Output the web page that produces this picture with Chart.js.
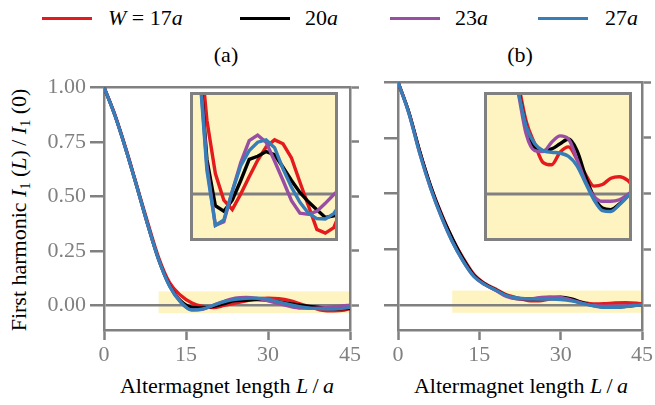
<!DOCTYPE html>
<html>
<head>
<meta charset="utf-8">
<script src="https://cdn.jsdelivr.net/npm/chart.js@4.4.1/dist/chart.umd.min.js"></script>
<style>
html, body { margin: 0; padding: 0; background: #fff; }
body { width: 655px; height: 405px; position: relative; overflow: hidden;
       font-family: "Liberation Serif", "DejaVu Serif", serif; color: #000; }
canvas { position: absolute; }
.txt { position: absolute; font-size: 22px; line-height: 22px; white-space: nowrap; }
.key { position: absolute; top: 17px; width: 50px; height: 3px; }
.ctr { transform: translate(-50%, -50%); }
sub { font-size: 14px; vertical-align: -4px; line-height: 0; }
</style>
</head>
<body>

<div class="key" style="left:42px;background:#e41a1c"></div>
<div class="txt" style="left:108px;top:7px"><i>W</i> = 17<i>a</i></div>
<div class="key" style="left:240px;background:#000"></div>
<div class="txt" style="left:305px;top:7px">20<i>a</i></div>
<div class="key" style="left:390px;background:#984ea3"></div>
<div class="txt" style="left:455px;top:7px">23<i>a</i></div>
<div class="key" style="left:538px;background:#377eb8"></div>
<div class="txt" style="left:605px;top:7px">27<i>a</i></div>

<div class="txt ctr" style="left:226px;top:55px">(a)</div>
<div class="txt ctr" style="left:520px;top:55px">(b)</div>

<div class="txt" style="left:19px;top:210px;transform:translate(-50%,-50%) rotate(-90deg)">First harmonic <i>I</i><sub>1</sub>&#8197;(<i>L</i>)&#8201;/&#8197;<i>I</i><sub>1</sub>&#8197;(0)</div>
<div class="txt ctr" style="left:227px;top:386px">Altermagnet length <i>L</i>&#8201;/&#8201;<i>a</i></div>
<div class="txt ctr" style="left:521px;top:386px">Altermagnet length <i>L</i>&#8201;/&#8201;<i>a</i></div>

<canvas id="mainA" width="340" height="300" style="left:30px;top:70px"></canvas>
<canvas id="mainB" width="277" height="300" style="left:378px;top:70px"></canvas>
<canvas id="insetA" width="148" height="149" style="left:190px;top:92px"></canvas>
<canvas id="insetB" width="148" height="149" style="left:484px;top:92px"></canvas>

<script>
// L/a sample points
var lengths = [0, 2, 4, 6, 8, 10, 12, 14, 16, 18, 20, 22, 24, 26, 28, 30, 32, 34, 36, 38, 40, 42, 44, 45];

var widthLabels = ['W = 17a', '20a', '23a', '27a'];
var colors = ['#e41a1c', '#000000', '#984ea3', '#377eb8'];

// panel (a)
var a17 = [1.0, 0.875, 0.72, 0.55, 0.38, 0.22, 0.105, 0.047, 0.013, -0.004, -0.010, 0.0, 0.011, 0.0215, 0.030, 0.0345, 0.032, 0.023, 0.0075, -0.0075, -0.0226, -0.025, -0.0215, -0.015];
var a20 = [1.0, 0.87, 0.715, 0.545, 0.37, 0.21, 0.092, 0.022, -0.0075, -0.011, -0.004, 0.0086, 0.022, 0.024, 0.027, 0.025, 0.017, 0.0086, 0.001, -0.005, -0.010, -0.015, -0.014, -0.0125];
var a23 = [1.0, 0.87, 0.715, 0.545, 0.37, 0.21, 0.09, 0.018, -0.020, -0.0177, 0.0017, 0.020, 0.034, 0.0375, 0.033, 0.021, 0.0086, -0.0043, -0.0123, -0.013, -0.011, -0.006, -0.0004, 0.002];
var a27 = [1.0, 0.87, 0.715, 0.545, 0.37, 0.21, 0.088, 0.015, -0.020, -0.0166, 0.0017, 0.018, 0.0276, 0.033, 0.0345, 0.0295, 0.016, 0.0043, -0.0054, -0.0123, -0.0157, -0.016, -0.0125, -0.0086];

// panel (b)
var b17 = [1.0, 0.865, 0.69, 0.535, 0.41, 0.30, 0.212, 0.138, 0.097, 0.072, 0.046, 0.032, 0.020, 0.0186, 0.0266, 0.030, 0.022, 0.0125, 0.005, 0.006, 0.010, 0.011, 0.0086, 0.0056];
var b20 = [1.0, 0.865, 0.69, 0.535, 0.405, 0.30, 0.207, 0.133, 0.094, 0.068, 0.043, 0.029, 0.0276, 0.0287, 0.032, 0.035, 0.0276, 0.0114, -0.002, -0.009, -0.010, -0.0065, -0.001, 0.0017];
var b23 = [1.0, 0.86, 0.68, 0.525, 0.395, 0.285, 0.197, 0.128, 0.091, 0.066, 0.038, 0.0276, 0.027, 0.033, 0.037, 0.035, 0.022, 0.008, -0.0015, -0.0047, -0.0047, -0.0037, -0.0004, 0.0017];
var b27 = [1.0, 0.86, 0.68, 0.525, 0.395, 0.285, 0.197, 0.128, 0.092, 0.067, 0.043, 0.032, 0.0276, 0.0266, 0.026, 0.024, 0.018, 0.007, -0.0037, -0.0106, -0.0112, -0.0069, -0.0015, 0.0017];

var xTicks = [0, 15, 30, 45];
var yTicks = [0, 0.25, 0.5, 0.75, 1.0];
var yRange = [-0.112, 1.0];

// zoomed window shown in the insets / shaded band
var zoomL = [10, 45];
var zoomI = [-0.03, 0.065];
var bandI = [-0.035, 0.065];

var gray = '#808080';
var yellow = '#fef4c2';
var font = { family: '"Liberation Serif", "Times New Roman", serif', size: 22 };

function series(vals) {
    return lengths.map(function (L, i) { return { x: L, y: vals[i] }; });
}

function makeSets(list, lw, smooth) {
    return list.map(function (vals, i) {
        return {
            label: widthLabels[i],
            data: series(vals),
            borderColor: colors[i],
            borderWidth: lw,
            pointRadius: 0,
            fill: false,
            tension: 0,
            cubicInterpolationMode: smooth ? 'monotone' : 'default',
            order: list.length - i
        };
    });
}

var bandPlugin = {
    id: 'band',
    beforeDraw: function (chart) {
        var x = chart.scales.x, y = chart.scales.y, c = chart.ctx;
        c.save();
        c.fillStyle = yellow;
        var x0 = x.getPixelForValue(zoomL[0]), x1 = x.getPixelForValue(zoomL[1]);
        var y0 = y.getPixelForValue(bandI[1]), y1 = y.getPixelForValue(bandI[0]);
        c.fillRect(x0, y0, x1 - x0, y1 - y0);
        c.restore();
    }
};

function mainChart(id, list, showLabels, leftW, rightW) {
    var fixW = function (w) { return function (s) { s.width = w; }; };
    var setTicks = function (arr) { return function (s) { s.ticks = arr.map(function (v) { return { value: v }; }); }; };
    return new Chart(document.getElementById(id), {
        type: 'line',
        data: { datasets: makeSets(list, 3.2, true) },
        plugins: [bandPlugin],
        options: {
            responsive: false,
            animation: false,
            devicePixelRatio: 1,
            layout: { padding: { top: 12, left: 0, right: 0, bottom: 0 } },
            plugins: { legend: { display: false }, tooltip: { enabled: false } },
            scales: {
                x: {
                    type: 'linear', position: 'bottom', min: 0, max: 45,
                    afterBuildTicks: setTicks(xTicks),
                    afterFit: function (s) { s.height = 40; },
                    grid: { drawOnChartArea: false, tickLength: 10, tickColor: gray, tickWidth: 2.5 },
                    border: { color: gray, width: 2.5 },
                    ticks: { color: gray, font: font, padding: 2, maxRotation: 0 }
                },
                x2: {
                    type: 'linear', position: 'top', min: 0, max: 45,
                    afterFit: function (s) { s.height = 0; },
                    grid: { display: false },
                    border: { display: true, color: gray, width: 2.5 },
                    ticks: { display: false }
                },
                y: {
                    type: 'linear', position: 'left', min: yRange[0], max: yRange[1],
                    afterBuildTicks: setTicks(yTicks),
                    afterFit: fixW(leftW),
                    grid: {
                        drawOnChartArea: true, tickLength: 14, tickColor: gray, tickWidth: 2.5, lineWidth: 2.5,
                        color: function (ctx) { return ctx.tick && ctx.tick.value === 0 ? gray : 'rgba(0,0,0,0)'; }
                    },
                    border: { color: gray, width: 2.5 },
                    ticks: {
                        display: showLabels, color: gray, font: font, padding: 4,
                        callback: function (v) { return v.toFixed(2); }
                    }
                },
                y2: {
                    type: 'linear', position: 'right', min: yRange[0], max: yRange[1],
                    afterBuildTicks: setTicks(yTicks),
                    afterFit: fixW(rightW),
                    grid: { drawOnChartArea: false, tickLength: 9, tickColor: gray, tickWidth: 2.5 },
                    border: { color: gray, width: 2.5 },
                    ticks: { display: false }
                }
            }
        }
    });
}

var insetPlugin = {
    id: 'insetBox',
    beforeDraw: function (chart) {
        var a = chart.chartArea, c = chart.ctx;
        c.save();
        c.fillStyle = yellow;
        c.fillRect(a.left, a.top, a.right - a.left, a.bottom - a.top);
        c.restore();
    },
    beforeDatasetsDraw: function (chart) {
        var a = chart.chartArea, c = chart.ctx;
        var y0 = chart.scales.y.getPixelForValue(0);
        c.save();
        c.strokeStyle = gray;
        c.lineWidth = 3;
        c.beginPath();
        c.moveTo(a.left, y0);
        c.lineTo(a.right, y0);
        c.stroke();
        c.restore();
    },
    afterDraw: function (chart) {
        var a = chart.chartArea, c = chart.ctx;
        c.save();
        c.strokeStyle = gray;
        c.lineWidth = 3;
        c.strokeRect(a.left + 1.5, a.top + 1.5, a.right - a.left - 3, a.bottom - a.top - 3);
        c.restore();
    }
};

function insetChart(id, list, smooth) {
    return new Chart(document.getElementById(id), {
        type: 'line',
        data: { datasets: makeSets(list, 3.4, smooth) },
        plugins: [insetPlugin],
        options: {
            responsive: false,
            animation: false,
            devicePixelRatio: 1,
            layout: { padding: 0 },
            plugins: { legend: { display: false }, tooltip: { enabled: false } },
            scales: {
                x: { type: 'linear', display: false, min: zoomL[0], max: zoomL[1] },
                y: { type: 'linear', display: false, min: zoomI[0], max: zoomI[1] }
            }
        }
    });
}

mainChart('mainA', [a17, a20, a23, a27], true, 74, 20);
mainChart('mainB', [b17, b20, b23, b27], false, 20, 12);
insetChart('insetA', [a17, a20, a23, a27], false);
insetChart('insetB', [b17, b20, b23, b27], true);
</script>
</body>
</html>
